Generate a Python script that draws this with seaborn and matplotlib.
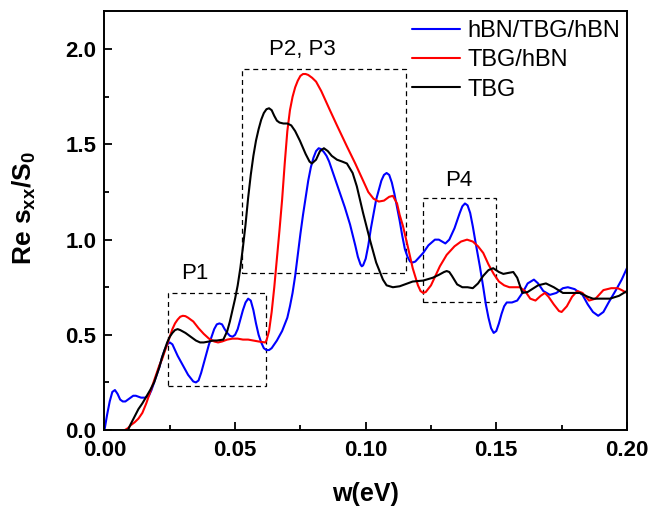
import numpy as np
import pandas as pd
import seaborn as sns
import matplotlib.pyplot as plt
from matplotlib.patches import Rectangle

# hBN/TBG/hBN (blue)
w_blue = [0.000, 0.001, 0.002, 0.003, 0.004, 0.005, 0.006, 0.007, 0.008, 0.009, 0.010, 0.011,
          0.012, 0.013, 0.014, 0.0155, 0.017, 0.018, 0.019, 0.020, 0.021, 0.022, 0.023, 0.024,
          0.025, 0.026, 0.027, 0.028, 0.030, 0.032, 0.034, 0.035, 0.036, 0.037, 0.038, 0.040,
          0.042, 0.043, 0.044, 0.045, 0.046, 0.047, 0.048, 0.049, 0.050, 0.051, 0.052, 0.053,
          0.054, 0.055, 0.056, 0.057, 0.058, 0.059, 0.060, 0.061, 0.062, 0.063, 0.064, 0.066,
          0.068, 0.070, 0.071, 0.072, 0.073, 0.074, 0.075, 0.076, 0.077, 0.078, 0.079, 0.080,
          0.081, 0.082, 0.083, 0.084, 0.085, 0.086, 0.088, 0.090, 0.092, 0.094, 0.096, 0.097,
          0.098, 0.0985, 0.099, 0.100, 0.101, 0.102, 0.104, 0.106, 0.107, 0.108, 0.109, 0.110,
          0.111, 0.112, 0.113, 0.114, 0.115, 0.116, 0.117, 0.118, 0.119, 0.120, 0.122, 0.124,
          0.1265, 0.128, 0.1305, 0.132, 0.134, 0.136, 0.137, 0.138, 0.139, 0.140, 0.141, 0.142,
          0.1437, 0.145, 0.146, 0.147, 0.148, 0.149, 0.150, 0.151, 0.152, 0.153, 0.154, 0.156,
          0.158, 0.160, 0.162, 0.1644, 0.166, 0.168, 0.1705, 0.173, 0.1755, 0.1774, 0.180, 0.183,
          0.185, 0.187, 0.189, 0.191, 0.193, 0.196, 0.198, 0.200]
s_blue = [0.00, 0.08, 0.15, 0.20, 0.21, 0.19, 0.16, 0.15, 0.15, 0.16, 0.17, 0.18,
          0.18, 0.175, 0.17, 0.17, 0.18, 0.21, 0.25, 0.29, 0.33, 0.38, 0.42, 0.45,
          0.46, 0.45, 0.42, 0.39, 0.34, 0.29, 0.255, 0.25, 0.26, 0.30, 0.35, 0.45,
          0.53, 0.555, 0.56, 0.555, 0.53, 0.51, 0.495, 0.49, 0.50, 0.53, 0.58, 0.63,
          0.67, 0.69, 0.68, 0.63, 0.56, 0.50, 0.46, 0.43, 0.42, 0.42, 0.43, 0.47,
          0.52, 0.59, 0.65, 0.72, 0.81, 0.92, 1.03, 1.13, 1.22, 1.31, 1.38, 1.43,
          1.465, 1.48, 1.475, 1.46, 1.44, 1.41, 1.33, 1.25, 1.17, 1.08, 0.97, 0.91,
          0.87, 0.86, 0.865, 0.90, 0.97, 1.06, 1.21, 1.31, 1.34, 1.35, 1.34, 1.30,
          1.24, 1.17, 1.10, 1.02, 0.95, 0.91, 0.885, 0.88, 0.885, 0.90, 0.93, 0.97,
          1.00, 1.00, 0.98, 1.00, 1.06, 1.14, 1.175, 1.19, 1.18, 1.14, 1.07, 0.99,
          0.86, 0.75, 0.66, 0.59, 0.535, 0.51, 0.52, 0.56, 0.61, 0.65, 0.67, 0.67,
          0.68, 0.72, 0.77, 0.79, 0.77, 0.73, 0.71, 0.72, 0.745, 0.75, 0.74, 0.71,
          0.66, 0.62, 0.60, 0.62, 0.67, 0.74, 0.79, 0.85]

# TBG/hBN (red)
w_red = [0.0078, 0.009, 0.010, 0.0115, 0.013, 0.0145, 0.016, 0.0175, 0.019, 0.020, 0.021, 0.022,
         0.023, 0.024, 0.025, 0.026, 0.027, 0.028, 0.029, 0.030, 0.031, 0.032, 0.034, 0.036,
         0.038, 0.040, 0.042, 0.0435, 0.045, 0.047, 0.049, 0.051, 0.053, 0.055, 0.057, 0.059,
         0.0615, 0.062, 0.063, 0.064, 0.065, 0.066, 0.067, 0.068, 0.069, 0.070, 0.071, 0.072,
         0.073, 0.074, 0.075, 0.076, 0.077, 0.078, 0.0795, 0.081, 0.083, 0.0863, 0.089, 0.0928,
         0.096, 0.099, 0.101, 0.103, 0.105, 0.107, 0.109, 0.1104, 0.112, 0.113, 0.1143, 0.116,
         0.118, 0.120, 0.121, 0.122, 0.123, 0.125, 0.1284, 0.131, 0.134, 0.1365, 0.1388, 0.141,
         0.143, 0.145, 0.147, 0.149, 0.151, 0.153, 0.155, 0.157, 0.159, 0.161, 0.163, 0.165,
         0.167, 0.1686, 0.170, 0.172, 0.174, 0.175, 0.177, 0.179, 0.181, 0.183, 0.1855, 0.188,
         0.191, 0.194, 0.1965, 0.198, 0.200]
s_red = [0.00, 0.01, 0.025, 0.04, 0.06, 0.09, 0.14, 0.20, 0.26, 0.30, 0.34, 0.37,
         0.41, 0.45, 0.49, 0.53, 0.56, 0.58, 0.595, 0.60, 0.598, 0.59, 0.57, 0.535,
         0.505, 0.48, 0.465, 0.46, 0.465, 0.475, 0.48, 0.48, 0.475, 0.475, 0.47, 0.465,
         0.46, 0.47, 0.52, 0.62, 0.75, 0.90, 1.05, 1.21, 1.40, 1.57, 1.68, 1.75,
         1.80, 1.835, 1.86, 1.87, 1.87, 1.865, 1.85, 1.83, 1.78, 1.68, 1.60, 1.49,
         1.40, 1.31, 1.25, 1.215, 1.20, 1.205, 1.225, 1.23, 1.19, 1.13, 1.07, 0.97,
         0.85, 0.76, 0.73, 0.72, 0.725, 0.76, 0.86, 0.92, 0.965, 0.99, 1.00, 0.99,
         0.965, 0.93, 0.87, 0.82, 0.78, 0.76, 0.75, 0.75, 0.75, 0.73, 0.69, 0.68,
         0.705, 0.72, 0.70, 0.66, 0.625, 0.62, 0.65, 0.70, 0.73, 0.72, 0.68, 0.69,
         0.735, 0.745, 0.745, 0.735, 0.72]

# TBG (black)
w_black = [0.009, 0.010, 0.0115, 0.013, 0.0145, 0.016, 0.0175, 0.019, 0.020, 0.021, 0.022, 0.023,
           0.024, 0.025, 0.026, 0.027, 0.028, 0.029, 0.031, 0.033, 0.035, 0.0366, 0.038, 0.040,
           0.0416, 0.043, 0.0455, 0.047, 0.048, 0.049, 0.050, 0.051, 0.052, 0.053, 0.054, 0.055,
           0.056, 0.057, 0.058, 0.059, 0.060, 0.061, 0.062, 0.063, 0.064, 0.065, 0.066, 0.067,
           0.0685, 0.070, 0.0715, 0.073, 0.0748, 0.077, 0.0785, 0.0794, 0.081, 0.0825, 0.084,
           0.0855, 0.087, 0.089, 0.091, 0.0928, 0.095, 0.0966, 0.099, 0.1016, 0.104, 0.1066,
           0.108, 0.1104, 0.113, 0.116, 0.118, 0.122, 0.1257, 0.128, 0.130, 0.131, 0.132, 0.133,
           0.135, 0.137, 0.139, 0.141, 0.143, 0.145, 0.147, 0.1488, 0.151, 0.1527, 0.1545, 0.1565,
           0.158, 0.160, 0.162, 0.1637, 0.166, 0.169, 0.172, 0.1755, 0.179, 0.182, 0.185, 0.187,
           0.190, 0.1935, 0.197, 0.200]
s_black = [0.00, 0.03, 0.07, 0.11, 0.14, 0.175, 0.21, 0.25, 0.29, 0.33, 0.38, 0.42,
           0.46, 0.49, 0.51, 0.525, 0.53, 0.525, 0.51, 0.49, 0.47, 0.46, 0.46, 0.465,
           0.47, 0.47, 0.475, 0.52, 0.57, 0.63, 0.69, 0.76, 0.85, 0.96, 1.08, 1.22,
           1.34, 1.44, 1.52, 1.58, 1.63, 1.665, 1.685, 1.69, 1.68, 1.65, 1.625, 1.615,
           1.61, 1.61, 1.60, 1.57, 1.52, 1.45, 1.41, 1.40, 1.42, 1.465, 1.48,
           1.465, 1.44, 1.42, 1.41, 1.40, 1.35, 1.28, 1.14, 1.00, 0.88, 0.79,
           0.76, 0.75, 0.755, 0.77, 0.78, 0.785, 0.80, 0.815, 0.83, 0.835, 0.83, 0.81,
           0.765, 0.75, 0.75, 0.745, 0.77, 0.81, 0.84, 0.85, 0.83, 0.82, 0.825, 0.83,
           0.80, 0.72, 0.725, 0.74, 0.76, 0.77, 0.75, 0.72, 0.72, 0.72, 0.70, 0.69,
           0.69, 0.69, 0.705, 0.73]

labels = ["hBN/TBG/hBN", "TBG/hBN", "TBG"]
colors = ["#0000ff", "#ff0000", "#000000"]

# dashed boxes: (x0, x1, y0, y1), label, label position
boxes = [(0.0243, 0.0618, 0.23, 0.72), (0.0527, 0.1154, 0.824, 1.895), (0.1219, 0.1499, 0.672, 1.218)]
box_labels = ["P1", "P2, P3", "P4"]
box_label_pos = [(0.0345, 0.82), (0.0757, 2.0), (0.1355, 1.31)]

df = pd.concat([
    pd.DataFrame({"w": w_blue, "s": s_blue, "sample": labels[0]}),
    pd.DataFrame({"w": w_red, "s": s_red, "sample": labels[1]}),
    pd.DataFrame({"w": w_black, "s": s_black, "sample": labels[2]}),
])

sns.set_style("ticks")
plt.rcParams["font.family"] = ["Liberation Sans", "DejaVu Sans"]
plt.rcParams["mathtext.fontset"] = "custom"
plt.rcParams["mathtext.rm"] = "Liberation Sans:bold"
plt.rcParams["mathtext.default"] = "rm"
for key in ["text.color", "axes.labelcolor", "xtick.color", "ytick.color", "axes.edgecolor"]:
    plt.rcParams[key] = "black"

fig = plt.figure(figsize=(6.51, 5.08), dpi=100)
ax = fig.add_axes([0.1605, 0.1535, 0.8025, 0.8245])

sns.lineplot(data=df, x="w", y="s", hue="sample", hue_order=labels, palette=colors,
             estimator=None, sort=True, linewidth=1.5, ax=ax)

for (x0, x1, y0, y1) in boxes:
    ax.add_patch(Rectangle((x0, y0), x1 - x0, y1 - y0, fill=False, ls=(0, (4, 3)),
                           lw=0.9, ec="black"))
for txt, (tx, ty) in zip(box_labels, box_label_pos):
    ax.text(tx, ty, txt, ha="center", va="center", fontsize=16)

ax.set_xlim(0, 0.2)
ax.set_ylim(0, 2.2)
ax.set_xticks([0.0, 0.05, 0.10, 0.15, 0.20])
ax.set_xticks([0.025, 0.075, 0.125, 0.175], minor=True)
ax.set_yticks([0.0, 0.5, 1.0, 1.5, 2.0])
ax.set_yticks([0.25, 0.75, 1.25, 1.75], minor=True)
ax.xaxis.set_major_formatter(plt.FormatStrFormatter("%.2f"))
ax.yaxis.set_major_formatter(plt.FormatStrFormatter("%.1f"))
ax.tick_params(which="both", direction="in", width=1.3, top=False, right=False)
ax.tick_params(which="major", length=6, labelsize=16)
ax.tick_params(axis="x", which="major", pad=7)
ax.tick_params(axis="y", which="major", pad=6)
ax.tick_params(which="minor", length=3.5)
for lab in ax.get_xticklabels() + ax.get_yticklabels():
    lab.set_fontweight("bold")
for sp in ax.spines.values():
    sp.set_linewidth(1.4)
    sp.set_visible(True)

ax.set_xlabel("w(eV)", fontsize=18, fontweight="bold")
ax.set_ylabel(r"Re s$_{xx}$/S$_0$", fontsize=19, fontweight="bold")
ax.xaxis.set_label_coords(0.5, -0.125)
ax.yaxis.set_label_coords(-0.128, 0.53)

leg = ax.legend(loc="upper right", bbox_to_anchor=(0.9866, 0.978), frameon=False, fontsize=17,
                handlelength=2.05, labelspacing=0.3, handletextpad=0.3,
                borderaxespad=0, borderpad=0)
for line in leg.get_lines():
    line.set_linewidth(1.5)

fig.savefig("out.png", dpi=100, facecolor="white")
plt.close(fig)
